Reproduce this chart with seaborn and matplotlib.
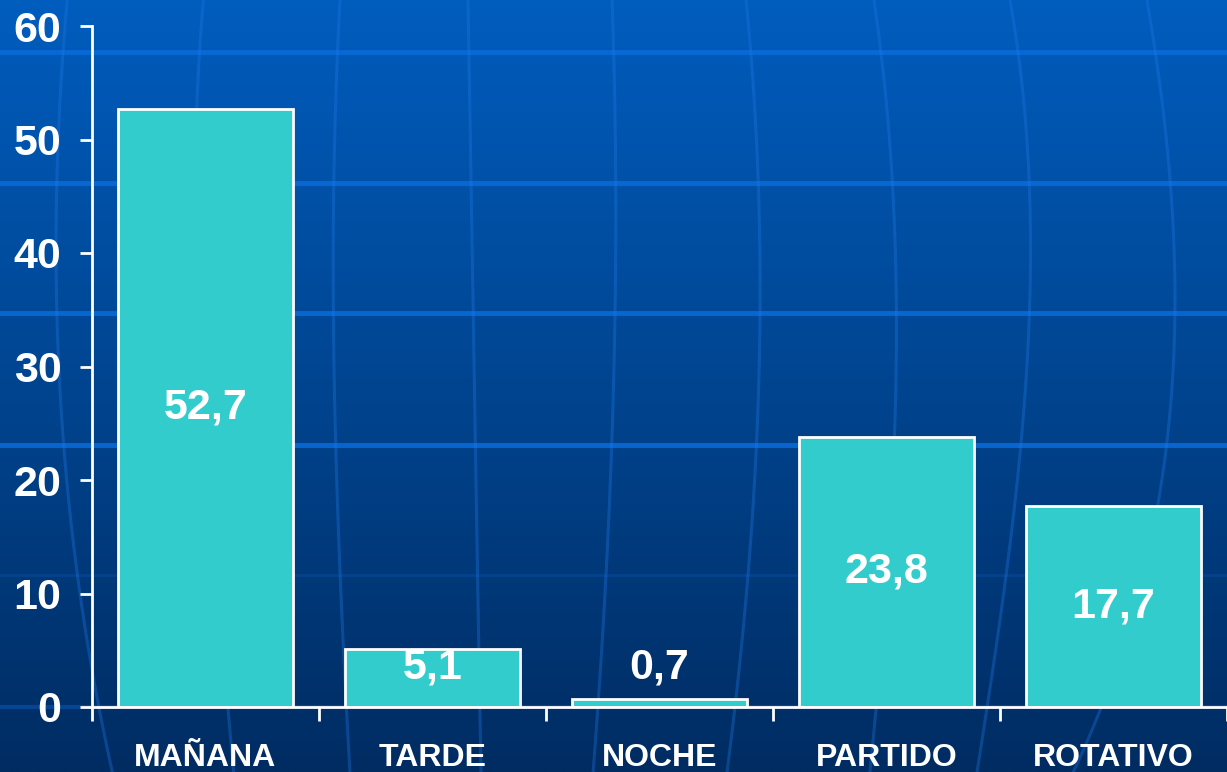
import numpy as np
import pandas as pd
import matplotlib
matplotlib.use("Agg")
import matplotlib.pyplot as plt
import seaborn as sns

# data
turnos = ["MAÑANA", "TARDE", "NOCHE", "PARTIDO", "ROTATIVO"]
porcentaje = [52.7, 5.1, 0.7, 23.8, 17.7]
etiquetas = ["52,7", "5,1", "0,7", "23,8", "17,7"]
y_ticks = [0, 10, 20, 30, 40, 50, 60]

df = pd.DataFrame({"turno": turnos, "pct": porcentaje})

sns.set_theme(style="white")
plt.rcParams["font.family"] = ["Liberation Sans", "DejaVu Sans"]

W, H = 1227, 772
fig = plt.figure(figsize=(W / 100, H / 100), dpi=100)

# background: blue gradient with a faint globe grid
bg = fig.add_axes([0, 0, 1, 1], zorder=-1)
top = np.array([0, 93, 190]) / 255
bot = np.array([0, 44, 98]) / 255
t = np.linspace(0, 1, 400)[:, None]
grad = (top[None, :] * (1 - t) + bot[None, :] * t)[:, None, :].repeat(2, axis=1)
bg.imshow(grad, extent=[0, W, H, 0], aspect="auto")
for yy in [52, 183, 313, 445]:
    bg.plot([0, W], [yy, yy], color="#0a6ad8", lw=3.5, alpha=0.9)
bg.plot([0, W], [575, 575], color="#0a55b0", lw=2, alpha=0.35)
bg.plot([0, W], [707, 707], color="#0a55b0", lw=3, alpha=0.6)
meridians = [
    [(67, 0), (58, 200), (55, 250), (63, 450), (82, 600), (112, 772)],
    [(203, 0), (197, 200), (200, 400), (220, 600), (233, 772)],
    [(340, 0), (333, 250), (335, 400), (341, 600), (350, 772)],
    [(468, 0), (473, 300), (478, 600), (481, 772)],
    [(612, 0), (616, 250), (612, 420), (605, 600), (593, 772)],
    [(746, 0), (760, 250), (758, 400), (746, 600), (727, 772)],
    [(874, 0), (895, 250), (896, 400), (885, 600), (870, 772)],
    [(1010, 0), (1030, 300), (1020, 450), (1003, 600), (977, 772)],
    [(1147, 0), (1175, 300), (1165, 450), (1140, 600), (1100, 700), (1075, 772)],
]
yy = np.linspace(0, H, 100)
for m in meridians:
    xs, ys = zip(*m)
    coef = np.polyfit(ys, xs, min(3, len(xs) - 1))
    bg.plot(np.polyval(coef, yy), yy, color="#1f78e6", alpha=0.35, lw=2.2)
bg.set_xlim(0, W)
bg.set_ylim(H, 0)
bg.axis("off")

# main chart
ax = fig.add_axes([92 / W, 65 / H, 1135 / W, 681 / H])
ax.set_facecolor("none")
sns.barplot(data=df, x="turno", y="pct", color="#33CCCC", saturation=1,
            edgecolor="white", linewidth=2, width=0.767, ax=ax)

for i, (v, lab) in enumerate(zip(porcentaje, etiquetas)):
    ax.text(i, max(v / 2, 3.5), lab, ha="center", va="center", color="white",
            fontsize=31, fontweight="bold")

ax.set_xlim(-0.5, 4.5)
ax.set_ylim(0, 60)
ax.set_yticks(y_ticks)
ax.set_yticklabels([str(v) for v in y_ticks])
ax.set_xticks(np.arange(-0.5, 5, 1))
ax.set_xticklabels([])
ax.set_xticks(range(len(turnos)), minor=True)
ax.set_xticklabels(turnos, minor=True)
ax.tick_params(axis="x", which="major", direction="out", length=10, width=2,
               color="white", bottom=True)
ax.tick_params(axis="x", which="minor", length=0, pad=26, labelsize=23,
               labelcolor="white")
ax.tick_params(axis="y", direction="out", length=9, width=2, color="white",
               pad=13, labelsize=31, labelcolor="white", left=True)
for lab in ax.get_xticklabels(minor=True) + ax.get_yticklabels():
    lab.set_fontweight("bold")
ax.set_xlabel("")
ax.set_ylabel("")
for s in ["top", "right"]:
    ax.spines[s].set_visible(False)
for s in ["left", "bottom"]:
    ax.spines[s].set_color("white")
    ax.spines[s].set_linewidth(2)
ax.grid(False)

fig.savefig("out.png", dpi=100)
